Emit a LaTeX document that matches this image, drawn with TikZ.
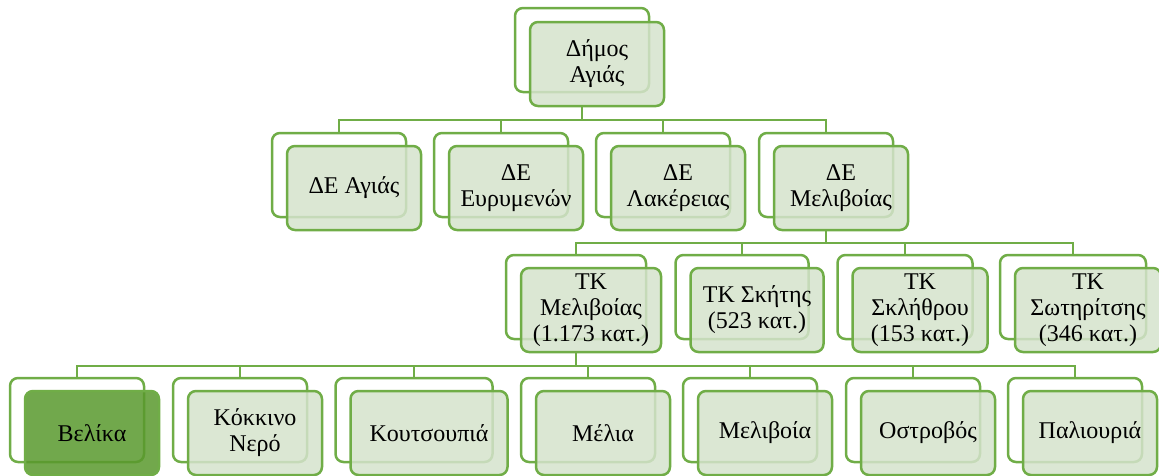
\documentclass[tikz,border=0pt]{standalone}
\usepackage{fontspec}
\setmainfont{Liberation Serif}

\definecolor{boxgreen}{RGB}{112,173,71}
\definecolor{frontfill}{RGB}{213,227,204}
\definecolor{selfill}{RGB}{89,153,45}

\newcommand*{\boxw}{134pt}
\newcommand*{\boxh}{84pt}

\begin{document}
\begin{tikzpicture}
[
	x=1pt, y=-1pt,
	backbox/.style={draw=boxgreen,line width=2.5pt,rounded corners=8pt,fill=white,
		minimum width=\boxw,minimum height=\boxh,inner sep=0pt},
	frontbox/.style={backbox,fill=frontfill,fill opacity=0.85,text opacity=1,
		align=center,font=\fontsize{24}{26}\selectfont},
	selbox/.style={frontbox,fill=selfill},
	conn/.style={draw=boxgreen,line width=2.5pt}
]

	\useasboundingbox (0,0) rectangle (1159,475);

	% top
	\node[backbox] at (582,50) (dimosb) {};
	\node[frontbox] at (597,64) (dimos) {Δήμος\\Αγιάς};

	% municipal units
	\node[backbox] at (339,175) (deagiab) {};
	\node[frontbox] at (354,188) (deagia) {ΔΕ Αγιάς};
	\node[backbox] at (501,175) (deeyryb) {};
	\node[frontbox] at (516,188) (deeyry) {ΔΕ\\Ευρυμενών};
	\node[backbox] at (663,175) (delakb) {};
	\node[frontbox] at (678,188) (delak) {ΔΕ\\Λακέρειας};
	\node[backbox] at (826,175) (demelb) {};
	\node[frontbox] at (841,188) (demel) {ΔΕ\\Μελιβοίας};

	% local communities
	\node[backbox,minimum width=140pt] at (576,297) (tkmelb) {};
	\node[frontbox,minimum width=140pt] at (591,310) (tkmel) {ΤΚ\\Μελιβοίας\\(1.173 κατ.)};
	\node[backbox,minimum width=133pt] at (742,297) (tkskitb) {};
	\node[frontbox,minimum width=133pt] at (757,310) (tkskit) {ΤΚ Σκήτης\\(523 κατ.)};
	\node[backbox,minimum width=135pt] at (905,297) (tksklb) {};
	\node[frontbox,minimum width=135pt] at (920,310) (tkskl) {ΤΚ\\Σκλήθρου\\(153 κατ.)};
	\node[backbox,minimum width=146pt] at (1073,297) (tksotb) {};
	\node[frontbox,minimum width=146pt] at (1088,310) (tksot) {ΤΚ\\Σωτηρίτσης\\(346 κατ.)};

	% settlements
	\node[backbox] at (77,420) (velb) {};
	\node[selbox] at (92,433) (vel) {Βελίκα};
	\node[backbox] at (240,420) (kokkb) {};
	\node[frontbox] at (255,433) (kokk) {Κόκκινο\\Νερό};
	\node[backbox,minimum width=157pt] at (414,420) (koutb) {};
	\node[frontbox,minimum width=157pt] at (429,433) (kout) {Κουτσουπιά};
	\node[backbox] at (588,420) (melb) {};
	\node[frontbox] at (603,433) (mel) {Μέλια};
	\node[backbox] at (750,420) (melvb) {};
	\node[frontbox] at (765,433) (melv) {Μελιβοία};
	\node[backbox] at (913,420) (ostrb) {};
	\node[frontbox] at (928,433) (ostr) {Οστροβός};
	\node[backbox] at (1075,420) (palb) {};
	\node[frontbox] at (1090,433) (pal) {Παλιουριά};

	% connectors
	\coordinate (bar1) at (0,120);
	\coordinate (bar2) at (0,243);
	\coordinate (bar3) at (0,366);

	\draw[conn] (dimosb |- dimos.south) -- (dimosb |- bar1) -| (deagiab.north);
	\draw[conn] (dimosb |- dimos.south) -- (dimosb |- bar1) -| (deeyryb.north);
	\draw[conn] (dimosb |- dimos.south) -- (dimosb |- bar1) -| (delakb.north);
	\draw[conn] (dimosb |- dimos.south) -- (dimosb |- bar1) -| (demelb.north);

	\draw[conn] (demelb |- demel.south) -- (demelb |- bar2) -| (tkmelb.north);
	\draw[conn] (demelb |- demel.south) -- (demelb |- bar2) -| (tkskitb.north);
	\draw[conn] (demelb |- demel.south) -- (demelb |- bar2) -| (tksklb.north);
	\draw[conn] (demelb |- demel.south) -- (demelb |- bar2) -| (tksotb.north);

	\draw[conn] (tkmelb |- tkmel.south) -- (tkmelb |- bar3) -| (velb.north);
	\draw[conn] (tkmelb |- tkmel.south) -- (tkmelb |- bar3) -| (kokkb.north);
	\draw[conn] (tkmelb |- tkmel.south) -- (tkmelb |- bar3) -| (koutb.north);
	\draw[conn] (tkmelb |- tkmel.south) -- (tkmelb |- bar3) -| (melb.north);
	\draw[conn] (tkmelb |- tkmel.south) -- (tkmelb |- bar3) -| (melvb.north);
	\draw[conn] (tkmelb |- tkmel.south) -- (tkmelb |- bar3) -| (ostrb.north);
	\draw[conn] (tkmelb |- tkmel.south) -- (tkmelb |- bar3) -| (palb.north);

\end{tikzpicture}
\end{document}
